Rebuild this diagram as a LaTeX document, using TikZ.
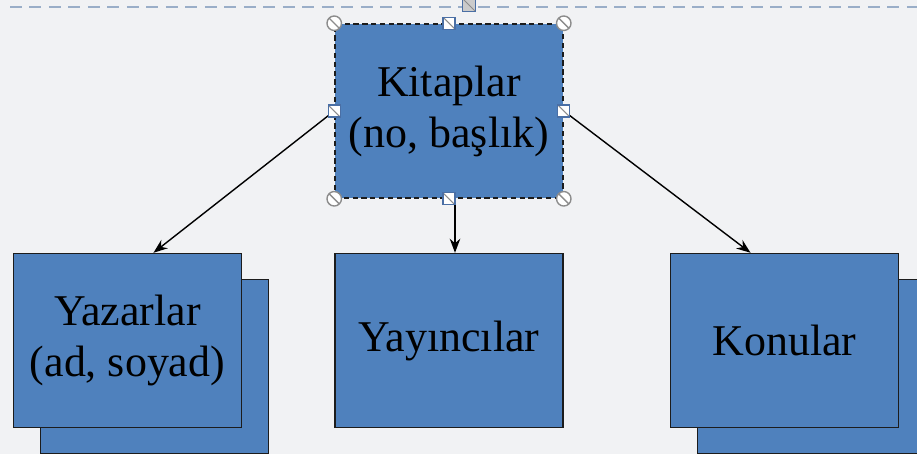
\documentclass[tikz,border=0pt]{standalone}
\usepackage{fontspec}
\setmainfont{Liberation Serif}
\usetikzlibrary{
  arrows.meta,
  positioning,
  calc,
  backgrounds
}
\definecolor{boxblue}{HTML}{4F81BD}
\definecolor{boxline}{HTML}{1C1C1C}
\definecolor{canvas}{HTML}{F1F2F4}
\definecolor{guide}{HTML}{9AAEC8}
\definecolor{handle}{HTML}{8C8C8C}
\definecolor{handleblue}{HTML}{4A6FA5}
\tikzset{
  entity/.style={
    draw=boxline,
    fill=boxblue,
    line width=0.9pt,
    minimum width=4.56cm,
    minimum height=3.48cm,
    inner sep=0pt,
    align=center,
    text=black,
    font=\rmfamily\fontsize{25}{29}\selectfont,
  },
  selected/.style={
    entity,
    dash pattern=on 3pt off 2pt,
  },
  flow/.style={
    -{Stealth[length=8pt, width=6pt]},
    line width=0.8pt,
    draw=black,
  },
  chandle/.style={
    circle,
    draw=handle,
    fill=white,
    minimum size=0.29cm,
    inner sep=0pt,
    line width=0.8pt,
    path picture={\draw[handle, line width=0.8pt]
      (path picture bounding box.north west) -- (path picture bounding box.south east);},
  },
  shandle/.style={
    rectangle,
    draw=handleblue,
    fill=white,
    minimum size=0.24cm,
    inner sep=0pt,
    line width=0.6pt,
    path picture={\draw[handle, line width=0.6pt]
      (path picture bounding box.north west) -- (path picture bounding box.south east);},
  },
  rhandle/.style={
    shandle,
    fill=handle!45,
    minimum size=0.27cm,
  },
}

\begin{document}
\begin{tikzpicture}[x=0.02cm, y=-0.02cm]

\clip (0,0) rectangle (917,454);

% === Canvas ===
\begin{pgfonlayer}{background}
  \fill[canvas] (0,0) rectangle (917,454);
\end{pgfonlayer}
\draw[guide, line width=1.5pt, dash pattern=on 0.24cm off 0.15cm] (10,7) -- (917,7);

% === Entities ===
\node[selected] (kitap) at (449,111) {Kitaplar\\(no, başlık)};

\node[entity, below=1.08cm of kitap] (yayinci) {Yayıncılar};

\node[entity, left=1.84cm of yayinci] (yazar) {Yazarlar\\(ad, soyad)};

\node[entity, right=2.12cm of yayinci] (konu) {Konular};

% stacked copies behind
\begin{pgfonlayer}{background}
  \node[entity] (yazarback) at ($(yazar)+(27,26)$) {};
  \node[entity] (konuback) at ($(konu)+(27,26)$) {};
\end{pgfonlayer}

% === Connectors ===
\draw[flow] (kitap.west) -- ([xshift=0.52cm]yazar.north);
\draw[flow] ([xshift=0.12cm]kitap.south) -- ([xshift=0.12cm]yayinci.north);
\draw[flow] (kitap.east) -- ([xshift=-0.68cm]konu.north);

% === Selection handles ===
\foreach \a in {north west, north east, south west, south east}
  \node[chandle] at (kitap.\a) {};
\foreach \a in {north, south, east, west}
  \node[shandle] at (kitap.\a) {};
\node[rhandle] (rot) at (469,5) {};

\end{tikzpicture}
\end{document}
